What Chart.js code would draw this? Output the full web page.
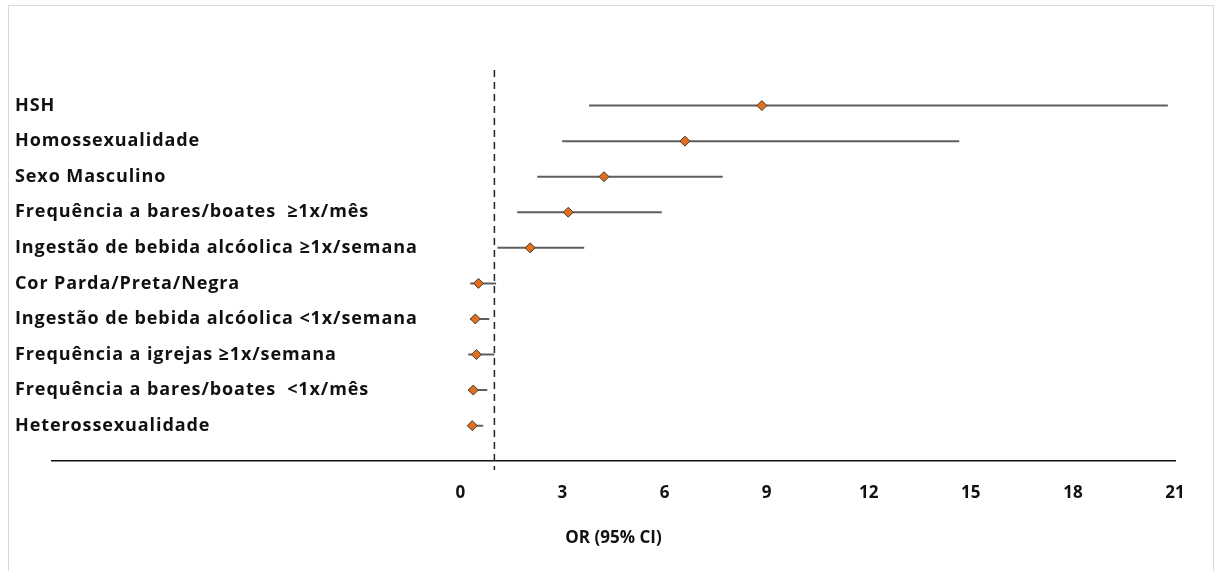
<!DOCTYPE html>
<html>
<head>
<meta charset="utf-8">
<script src="https://cdn.jsdelivr.net/npm/chart.js"></script>
<style>
  html, body { margin: 0; padding: 0; background: #fff; }
  #wrap { position: relative; width: 1216px; height: 571px; overflow: hidden; }
  #frame { position: absolute; left: 8px; top: 5px; width: 1204px; height: 600px; border: 1px solid #d9d9d9; }
  canvas { position: absolute; left: 0; top: 0; }
</style>
</head>
<body>
<div id="wrap">
  <div id="frame"></div>
  <canvas id="forest" width="1216" height="571"></canvas>
</div>
<script>
// rows, top to bottom
const labels = [
  "HSH",
  "Homossexualidade",
  "Sexo Masculino",
  "Frequência a bares/boates  ≥1x/mês",
  "Ingestão de bebida alcóolica ≥1x/semana",
  "Cor Parda/Preta/Negra",
  "Ingestão de bebida alcóolica <1x/semana",
  "Frequência a igrejas ≥1x/semana",
  "Frequência a bares/boates  <1x/mês",
  "Heterossexualidade"
];
const oddsRatio = [8.86, 6.60, 4.22, 3.17, 2.05, 0.53, 0.44, 0.47, 0.38, 0.35];
const lowerCI   = [3.78, 2.99, 2.26, 1.67, 1.09, 0.29, 0.29, 0.23, 0.23, 0.23];
const upperCI   = [20.79, 14.66, 7.71, 5.92, 3.64, 1.05, 0.85, 1.00, 0.79, 0.67];
const xTicks = [0, 3, 6, 9, 12, 15, 18, 21];
const refLine = 1;

const FONT = "'Open Sans', Lato, sans-serif";

// one small line per confidence interval
const ciSets = labels.map((l, i) => ({
  type: "line",
  label: l,
  data: [{ x: lowerCI[i], y: i + 1 }, { x: upperCI[i], y: i + 1 }],
  borderColor: "#5e5e5e",
  borderWidth: 2,
  pointRadius: 0,
  order: 2
}));

const labelPlugin = {
  id: "rowLabels",
  afterDatasetsDraw(chart) {
    const ctx = chart.ctx, y = chart.scales.y;
    ctx.save();
    ctx.font = "bold 18px " + FONT;
    ctx.letterSpacing = "0.9px";
    ctx.fillStyle = "#111";
    ctx.textAlign = "left";
    ctx.textBaseline = "middle";
    labels.forEach((l, i) => ctx.fillText(l, 15, y.getPixelForValue(i + 1)));
    ctx.restore();
  }
};

new Chart(document.getElementById("forest"), {
  type: "scatter",
  data: {
    datasets: [
      ...ciSets,
      {
        type: "line",
        label: "OR = 1",
        data: [{ x: refLine, y: 0 }, { x: refLine, y: 11.25 }],
        borderColor: "#222",
        borderWidth: 1.5,
        borderDash: [7, 5],
        pointRadius: 0,
        clip: false,
        order: 3
      },
      {
        label: "OR",
        data: oddsRatio.map((v, i) => ({ x: v, y: i + 1 })),
        pointStyle: "rectRot",
        pointRadius: 5,
        backgroundColor: "#e07020",
        borderColor: "#4a3a2a",
        borderWidth: 1,
        order: 1
      }
    ]
  },
  options: {
    responsive: false,
    animation: false,
    layout: { padding: { left: 52, right: 41, top: 70, bottom: 23 } },
    plugins: {
      legend: { display: false },
      tooltip: { enabled: false }
    },
    scales: {
      x: {
        type: "linear",
        min: -12,
        max: 21,
        afterBuildTicks: (axis) => { axis.ticks = [-12, ...xTicks].map(v => ({ value: v })); },
        grid: { display: false, drawTicks: false },
        border: { display: true, color: "#111", width: 1.5 },
        ticks: {
          padding: 22,
          autoSkip: false,
          maxRotation: 0,
          color: "#111",
          font: { family: FONT, size: 17, weight: "bold" },
          callback: (v) => (v >= 0 ? v : "")
        },
        title: {
          display: true,
          text: "OR (95% CI)",
          color: "#111",
          font: { family: FONT, size: 17, weight: "bold" },
          padding: { top: 2, bottom: 0 }
        }
      },
      y: {
        type: "linear",
        min: 0,
        max: 11,
        reverse: true,
        display: false
      }
    }
  },
  plugins: [labelPlugin]
});
</script>
</body>
</html>
